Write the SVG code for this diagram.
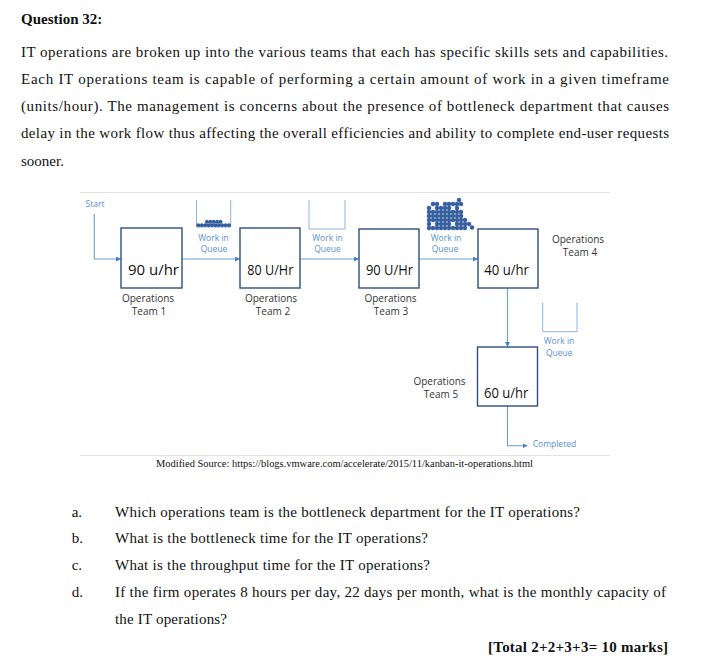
<svg xmlns="http://www.w3.org/2000/svg" width="717" height="661" viewBox="0 0 717 661">
<style>
.q{font-family:"Liberation Serif","Times New Roman",serif;font-size:15px;fill:#111}
.b{font-weight:bold}
.box{fill:#fff;stroke:#2f4f7f;stroke-width:1.4}
.rate{font-family:"Open Sans","Liberation Sans",sans-serif;font-size:14px;fill:#111}
.lab{font-family:"Open Sans","Liberation Sans",sans-serif;font-size:10px;fill:#333;text-anchor:middle}
.blue{font-family:"Open Sans","Liberation Sans",sans-serif;font-size:8.5px;fill:#5b8fd0}
.mid{text-anchor:middle}
.con{fill:none;stroke:#6a9fd8;stroke-width:1.1}
.cup{fill:none;stroke:#8cb4e2;stroke-width:1}
.sep{stroke:#e3e3e3;stroke-width:1}
.d{fill:#2f5da6;stroke:#1d3f75;stroke-width:0.4}
</style>
<defs>
<marker id="ar" viewBox="0 0 6 6" refX="6" refY="3" markerWidth="5" markerHeight="5" markerUnits="userSpaceOnUse" orient="auto">
<path d="M0,0 L6,3 L0,6 z" fill="#4a80c8"/>
</marker>
</defs>
<rect width="717" height="661" fill="#fff"/>

<g id="question">
<text class="q b" x="21" y="24">Question 32:</text>
<text class="q" x="21" y="56.5" textLength="647" lengthAdjust="spacing">IT operations are broken up into the various teams that each has specific skills sets and capabilities.</text>
<text class="q" x="21" y="83.5" textLength="648" lengthAdjust="spacing">Each IT operations team is capable of performing a certain amount of work in a given timeframe</text>
<text class="q" x="21" y="110.5" textLength="648" lengthAdjust="spacing">(units/hour). The management is concerns about the presence of bottleneck department that causes</text>
<text class="q" x="21" y="138" textLength="648" lengthAdjust="spacing">delay in the work flow thus affecting the overall efficiencies and ability to complete end-user requests</text>
<text class="q" x="21" y="166">sooner.</text>
</g>

<line class="sep" x1="80" y1="192.5" x2="610" y2="192.5"/>
<line class="sep" x1="80" y1="455.5" x2="610" y2="455.5"/>

<g id="connectors">
<path class="con" d="M94.3,214 V259 H121" marker-end="url(#ar)"/>
<path class="con" d="M182,259 H240" marker-end="url(#ar)"/>
<path class="con" d="M300,259 H359" marker-end="url(#ar)"/>
<path class="con" d="M419,259 H478" marker-end="url(#ar)"/>
<path class="con" d="M507.5,288 V347" marker-end="url(#ar)"/>
<path class="con" d="M507.5,406 V445.7 H527.5" marker-end="url(#ar)"/>
</g>

<g id="start"><text class="blue" x="85.5" y="207">Start</text></g>
<g id="completed"><text class="blue" x="532.7" y="447">Completed</text></g>

<g id="team1">
<rect class="box" x="121" y="228" width="61" height="60"/>
<text class="rate" x="128" y="275" textLength="51" lengthAdjust="spacingAndGlyphs">90 u/hr</text>
<text class="lab" x="148" y="301.5">Operations</text>
<text class="lab" x="149" y="315">Team 1</text>
</g>
<g id="team2">
<rect class="box" x="240" y="228" width="60" height="60"/>
<text class="rate" x="247.3" y="275" textLength="46" lengthAdjust="spacingAndGlyphs">80 U/Hr</text>
<text class="lab" x="271" y="301.5">Operations</text>
<text class="lab" x="273" y="315">Team 2</text>
</g>
<g id="team3">
<rect class="box" x="359" y="229" width="60" height="59"/>
<text class="rate" x="366" y="275" textLength="47" lengthAdjust="spacingAndGlyphs">90 U/Hr</text>
<text class="lab" x="390.5" y="301.5">Operations</text>
<text class="lab" x="391" y="315">Team 3</text>
</g>
<g id="team4">
<rect class="box" x="478" y="229" width="60" height="59"/>
<text class="rate" x="484.3" y="275" textLength="44.7" lengthAdjust="spacingAndGlyphs">40 u/hr</text>
<text class="lab" x="578" y="243">Operations</text>
<text class="lab" x="580" y="256">Team 4</text>
</g>
<g id="team5">
<rect class="box" x="477.5" y="347" width="60" height="59"/>
<text class="rate" x="484" y="398.3" textLength="44.3" lengthAdjust="spacingAndGlyphs">60 u/hr</text>
<text class="lab" x="439.5" y="385">Operations</text>
<text class="lab" x="441" y="398">Team 5</text>
</g>

<g id="queue1">
<path class="cup" d="M196.5,200 V227 H230.7 V200"/>
<circle class="d" cx="198.4" cy="225.2" r="1.7"/><circle class="d" cx="201.8" cy="225.2" r="1.7"/>
<circle class="d" cx="205.2" cy="225.2" r="1.7"/><circle class="d" cx="208.6" cy="225.2" r="1.7"/>
<circle class="d" cx="212" cy="225.2" r="1.7"/><circle class="d" cx="215.4" cy="225.2" r="1.7"/>
<circle class="d" cx="218.8" cy="225.2" r="1.7"/><circle class="d" cx="222.2" cy="225.2" r="1.7"/>
<circle class="d" cx="225.6" cy="225.2" r="1.7"/><circle class="d" cx="229" cy="225.2" r="1.7"/>
<circle class="d" cx="206.9" cy="221.8" r="1.7"/><circle class="d" cx="210.3" cy="221.8" r="1.7"/>
<circle class="d" cx="213.7" cy="221.8" r="1.7"/><circle class="d" cx="217.1" cy="221.8" r="1.7"/>
<circle class="d" cx="220.5" cy="221.8" r="1.7"/>
<text class="blue mid" x="213.5" y="240.7">Work in</text>
<text class="blue mid" x="214" y="252">Queue</text>
</g>

<g id="queue2">
<path class="cup" d="M309,200 V229 H345 V200"/>
<text class="blue mid" x="327.5" y="240.7">Work in</text>
<text class="blue mid" x="327.5" y="252">Queue</text>
</g>

<g id="queue3">
<circle class="d" cx="459" cy="200" r="2"/>
<circle class="d" cx="433" cy="204" r="2"/><circle class="d" cx="437" cy="204" r="2"/><circle class="d" cx="445" cy="204" r="2"/><circle class="d" cx="449" cy="204" r="2"/><circle class="d" cx="453" cy="204" r="2"/><circle class="d" cx="457" cy="204" r="2"/><circle class="d" cx="461" cy="204" r="2"/>
<circle class="d" cx="429" cy="208" r="2"/><circle class="d" cx="437" cy="208" r="2"/><circle class="d" cx="441" cy="208" r="2"/><circle class="d" cx="445" cy="208" r="2"/><circle class="d" cx="449" cy="208" r="2"/><circle class="d" cx="457" cy="208" r="2"/>
<circle class="d" cx="429" cy="212" r="2"/><circle class="d" cx="433" cy="212" r="2"/><circle class="d" cx="437" cy="212" r="2"/><circle class="d" cx="441" cy="212" r="2"/><circle class="d" cx="445" cy="212" r="2"/><circle class="d" cx="449" cy="212" r="2"/><circle class="d" cx="453" cy="212" r="2"/><circle class="d" cx="457" cy="212" r="2"/><circle class="d" cx="461" cy="212" r="2"/>
<circle class="d" cx="429" cy="216" r="2"/><circle class="d" cx="433" cy="216" r="2"/><circle class="d" cx="437" cy="216" r="2"/><circle class="d" cx="441" cy="216" r="2"/><circle class="d" cx="445" cy="216" r="2"/><circle class="d" cx="449" cy="216" r="2"/><circle class="d" cx="453" cy="216" r="2"/><circle class="d" cx="457" cy="216" r="2"/><circle class="d" cx="461" cy="216" r="2"/>
<circle class="d" cx="429" cy="220" r="2"/><circle class="d" cx="433" cy="220" r="2"/><circle class="d" cx="437" cy="220" r="2"/><circle class="d" cx="441" cy="220" r="2"/><circle class="d" cx="445" cy="220" r="2"/><circle class="d" cx="449" cy="220" r="2"/><circle class="d" cx="453" cy="220" r="2"/><circle class="d" cx="457" cy="220" r="2"/><circle class="d" cx="461" cy="220" r="2"/><circle class="d" cx="465" cy="220" r="2"/>
<circle class="d" cx="429" cy="224" r="2"/><circle class="d" cx="437" cy="224" r="2"/><circle class="d" cx="441" cy="224" r="2"/><circle class="d" cx="445" cy="224" r="2"/><circle class="d" cx="449" cy="224" r="2"/><circle class="d" cx="457" cy="224" r="2"/><circle class="d" cx="461" cy="224" r="2"/><circle class="d" cx="465" cy="224" r="2"/><circle class="d" cx="469" cy="224" r="2"/>
<circle class="d" cx="429" cy="228" r="2"/><circle class="d" cx="433" cy="228" r="2"/><circle class="d" cx="437" cy="228" r="2"/><circle class="d" cx="441" cy="228" r="2"/><circle class="d" cx="445" cy="228" r="2"/><circle class="d" cx="449" cy="228" r="2"/><circle class="d" cx="453" cy="228" r="2"/><circle class="d" cx="457" cy="228" r="2"/><circle class="d" cx="461" cy="228" r="2"/><circle class="d" cx="465" cy="228" r="2"/><circle class="d" cx="472" cy="227.5" r="2"/>
<text class="blue mid" x="446" y="241">Work in</text>
<text class="blue mid" x="445" y="252">Queue</text>
</g>

<g id="queue4">
<path class="cup" d="M542.7,302.5 V331.7 H577 V302.5"/>
<text class="blue mid" x="559" y="344">Work in</text>
<text class="blue mid" x="559.3" y="355.7">Queue</text>
</g>

<g id="source">
<text class="q" x="156" y="467" style="font-size:10px" textLength="377" lengthAdjust="spacingAndGlyphs">Modified Source: https://blogs.vmware.com/accelerate/2015/11/kanban-it-operations.html</text>
</g>

<g id="items">
<text class="q" x="71.7" y="516.7">a.</text>
<text class="q" x="115" y="516.7" textLength="465" lengthAdjust="spacing">Which operations team is the bottleneck department for the IT operations?</text>
<text class="q" x="71.7" y="543.3">b.</text>
<text class="q" x="115" y="543.3" textLength="313" lengthAdjust="spacing">What is the bottleneck time for the IT operations?</text>
<text class="q" x="71.7" y="570">c.</text>
<text class="q" x="115" y="570" textLength="315" lengthAdjust="spacing">What is the throughput time for the IT operations?</text>
<text class="q" x="71.7" y="596.5">d.</text>
<text class="q" x="115" y="596.5" textLength="551" lengthAdjust="spacing">If the firm operates 8 hours per day, 22 days per month, what is the monthly capacity of</text>
<text class="q" x="115" y="623.5" textLength="112" lengthAdjust="spacing">the IT operations?</text>
<text class="q b" x="488" y="651.7" textLength="180" lengthAdjust="spacing">[Total 2+2+3+3= 10 marks]</text>
</g>
</svg>
